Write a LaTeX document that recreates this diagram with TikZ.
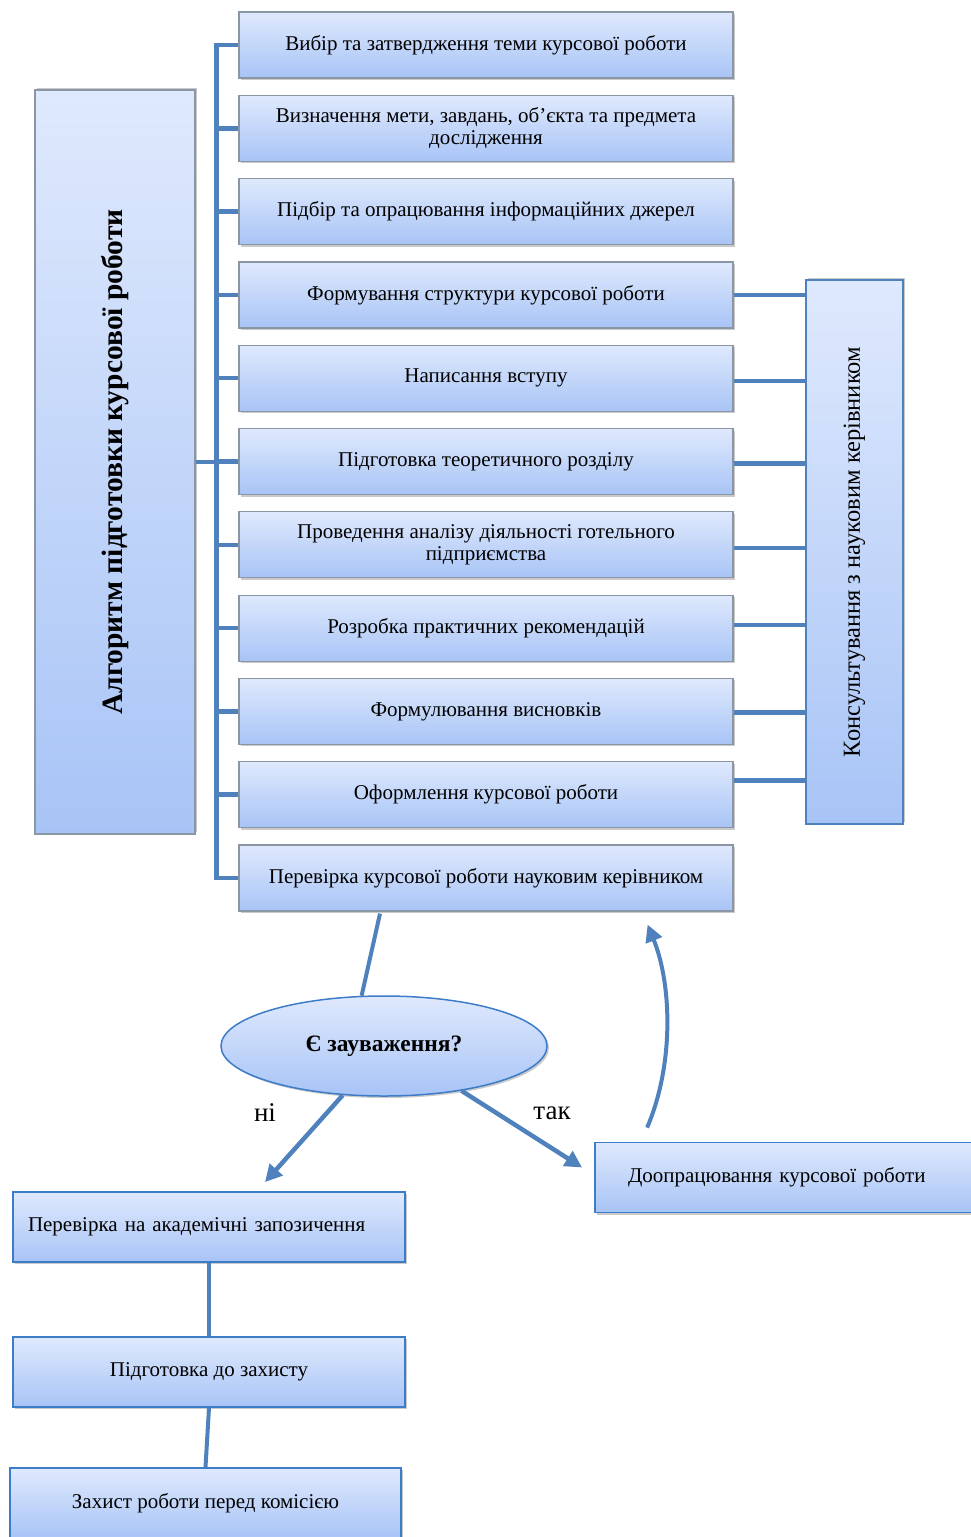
\documentclass[tikz,border=0pt]{standalone}
\usepackage{fontspec}
\setmainfont{Liberation Serif}
\usetikzlibrary{calc, arrows.meta, shapes.geometric, shadows}
\definecolor{linkblue}{HTML}{4F81BD}
\definecolor{edgeblue}{HTML}{3D7CC6}
\definecolor{stagegray}{HTML}{8A96A3}
\definecolor{shadetop}{HTML}{DFE9FD}
\definecolor{shadebot}{HTML}{A8C4F6}
\tikzset{
  link/.style={
    line width=4.5pt,
    color=linkblue
  },
  flow/.style={
    -{Triangle[length=17pt, width=17pt]},
    line width=4.5pt,
    color=linkblue
  },
  stage/.style={
    draw=stagegray,
    line width=1.2pt,
    top color=shadetop,
    bottom color=shadebot,
    minimum width=494pt,
    minimum height=66pt,
    align=center,
    font=\fontsize{21}{22}\selectfont,
    drop shadow={shadow xshift=2pt, shadow yshift=-2pt, opacity=0.35, fill=black!60}
  },
  sidebox/.style={
    rotate=90,
    line width=1.2pt,
    top color=shadetop,
    bottom color=shadebot,
    align=center,
    drop shadow={shadow xshift=2pt, shadow yshift=2pt, opacity=0.35, fill=black!60}
  },
  endbox/.style={
    draw=edgeblue,
    line width=1.8pt,
    top color=shadetop,
    bottom color=shadebot,
    minimum height=70pt,
    font=\fontsize{21}{22}\selectfont,
    drop shadow={shadow xshift=2pt, shadow yshift=-2pt, opacity=0.35, fill=black!60}
  },
  decision/.style={
    ellipse,
    draw=edgeblue,
    line width=1.5pt,
    top color=shadetop,
    bottom color=shadebot,
    minimum width=326pt,
    minimum height=100pt,
    inner sep=0pt,
    font=\bfseries\fontsize{23.5}{25}\selectfont,
    drop shadow={shadow xshift=2pt, shadow yshift=-2pt, opacity=0.35, fill=black!60}
  },
  answer/.style={
    font=\fontsize{27}{29}\selectfont
  }
}

\begin{document}
\begin{tikzpicture}[x=1pt, y=-1pt, >=Stealth]
    % 1px = 1pt, вісь y донизу
    \useasboundingbox (0,0) rectangle (971,1537);

    % ліва колонка
    \node[sidebox, draw=stagegray, font=\bfseries\fontsize{29.5}{31}\selectfont,
          minimum width=744pt, minimum height=160pt] (alg) at (115,462)
          {Алгоритм підготовки курсової роботи};

    % етапи
    \foreach \i/\txt in {
        1/{Вибір та затвердження теми курсової роботи},
        2/{Визначення мети, завдань, об’єкта та предмета\\дослідження},
        3/{Підбір та опрацювання інформаційних джерел},
        4/{Формування структури курсової роботи},
        5/{Написання вступу},
        6/{Підготовка теоретичного розділу},
        7/{Проведення аналізу діяльності готельного\\підприємства},
        8/{Розробка практичних рекомендацій},
        9/{Формулювання висновків},
        10/{Оформлення курсової роботи},
        11/{Перевірка курсової роботи науковим керівником}} {
      \node[stage] (b\i) at (486,{45+83.3*(\i-1)}) {\txt};
    }

    % консультування
    \node[sidebox, draw=linkblue, font=\fontsize{24.5}{26}\selectfont,
          minimum width=544pt, minimum height=97pt] (cons) at (854.5,552)
          {Консультування з науковим керівником};

    % дужка зліва
    \draw[link] (b1.west) -- ++(-22,0) |- (b11.west);
    \foreach \i in {2,...,10} {
      \draw[link] (b\i.west) -- ++(-22,0);
    }
    \draw[link] (alg.south) -- ++(22,0);

    % зв'язки з консультуванням
    \foreach \i/\dy in {4/0, 5/3, 6/2, 7/3, 8/-3, 9/1, 10/-14} {
      \draw[link] ([yshift=-\dy pt]b\i.east) -- ([yshift=-\dy pt]b\i.east -| cons.north);
    }

    % рішення
    \node[decision] (q) at (384,1046) {Є зауваження?};
    \draw[link, line width=4pt] ($(b11.south)+(-106,2)$) -- (q.114);

    \node[endbox, text width=362pt, inner xsep=15pt, align=left] (plag) at (209,1227)
          {Перевірка на академічні запозичення};
    \node[endbox, minimum width=392pt, align=center] (prep) at (209,1372)
          {Підготовка до захисту};
    \node[endbox, minimum width=391pt, align=center] (def) at (205.5,1503)
          {Захист роботи перед комісією};
    \node[endbox, text width=340pt, inner xsep=33pt, align=left] (fix) at (798,1177.5)
          {Доопрацювання курсової роботи};

    % стрілки
    \coordinate (noend) at ($(plag.north)+(56,-9)$);
    \coordinate (yesend) at ($(fix.west)+(-12,-10)$);
    \draw[flow] (q.-130) -- (noend);
    \draw[flow] (q.-30) -- (yesend);
    \node[answer] (no) at (265,1113) {ні};
    \node[answer] (yes) at (552,1113) {так};

    \coordinate (redo) at ($(fix.north west)+(53,-14)$);
    \coordinate (back) at ($(b11.south east)+(-86,13)$);
    \draw[flow, line width=4pt] (redo) .. controls (674,1065) and (672,985) .. (back);

    \draw[link, line width=4pt] (plag.south) -- (prep.north);
    \draw[link, line width=4pt] (prep.south) -- (def.north);

\end{tikzpicture}
\end{document}
